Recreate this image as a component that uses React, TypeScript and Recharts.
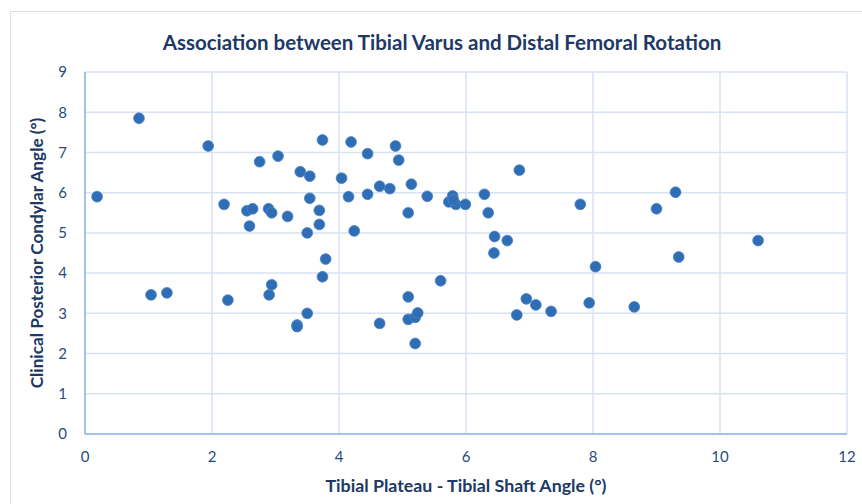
import React from "react";
import { ScatterChart, Scatter, XAxis, YAxis, CartesianGrid, Label } from "recharts";

const tibialVarus = [
  0.19, 0.85, 1.04, 1.29, 1.94, 2.19, 2.25, 2.55, 2.59, 2.64, 2.75, 2.89, 2.94, 2.9, 2.94, 3.04, 3.19, 3.34, 3.34, 3.39,
  3.5, 3.5, 3.54, 3.54, 3.69, 3.69, 3.74, 3.74, 3.79, 4.04, 4.15, 4.19, 4.24, 4.45, 4.45, 4.64, 4.64, 4.8, 4.89, 4.94,
  5.09, 5.09, 5.09, 5.14, 5.2, 5.24, 5.2, 5.39, 5.6, 5.73, 5.79, 5.84, 5.8, 5.99, 6.29, 6.35, 6.45, 6.44, 6.65, 6.8,
  6.84, 6.95, 7.1, 7.34, 7.8, 7.94, 8.04, 8.65, 9.0, 9.3, 9.35, 10.6,
];
const condylarAngle = [
  5.9, 7.85, 3.46, 3.51, 7.16, 5.71, 3.33, 5.55, 5.17, 5.6, 6.77, 5.6, 5.5, 3.46, 3.71, 6.91, 5.41, 2.71, 2.67, 6.52,
  3.0, 5.0, 6.41, 5.86, 5.56, 5.21, 7.31, 3.91, 4.35, 6.36, 5.9, 7.26, 5.05, 6.97, 5.96, 6.16, 2.75, 6.1, 7.16, 6.81,
  5.5, 3.41, 2.85, 6.21, 2.9, 3.01, 2.25, 5.91, 3.81, 5.77, 5.92, 5.71, 5.82, 5.71, 5.96, 5.5, 4.91, 4.5, 4.81, 2.96,
  6.56, 3.36, 3.21, 3.05, 5.71, 3.26, 4.16, 3.16, 5.6, 6.01, 4.4, 4.81,
];
const xTicks = [0, 2, 4, 6, 8, 10, 12];
const yTicks = [0, 1, 2, 3, 4, 5, 6, 7, 8, 9];

const data = tibialVarus.map((x, i) => ({ x, y: condylarAngle[i] }));

const FONT = "Lato, 'Open Sans', sans-serif";
const DARK = "#203864";
const TICK = "#2B4A7C";

const Dot = (props: any) => {
  const { cx, cy } = props;
  if (cx == null || cy == null) return null;
  return <circle cx={cx} cy={cy} r={5.4} fill="#2F6DB5" stroke="#4A84C8" strokeWidth={0.8} />;
};

export default function App() {
  return (
    <div style={{ position: "absolute", left: 0, top: 0, width: 862, height: 504, overflow: "hidden", background: "#fff" }}>
      <div
        style={{
          position: "absolute",
          left: 10,
          top: 11,
          width: 900,
          height: 600,
          border: "1.5px solid #D9E2F3",
        }}
      />
      <div
        style={{
          position: "absolute",
          left: 0,
          top: 29,
          width: 884,
          textAlign: "center",
          fontFamily: FONT,
          fontWeight: 700,
          fontSize: 20.5,
          lineHeight: "26px",
          color: DARK,
        }}
      >
        Association between Tibial Varus and Distal Femoral Rotation
      </div>
      <div style={{ position: "absolute", left: 0, top: 0 }}>
        <ScatterChart width={862} height={504} margin={{ top: 72, right: 15, bottom: 30, left: 0 }}>
          <CartesianGrid stroke="#D9E2F3" strokeWidth={1.5} />
          <XAxis
            type="number"
            dataKey="x"
            domain={[0, 12]}
            ticks={xTicks}
            interval={0}
            height={40}
            axisLine={{ stroke: "#8EB4E3", strokeWidth: 1.5 }}
            tickLine={false}
            tickSize={0}
            tickMargin={17}
            tick={{ fill: TICK, fontSize: 15, fontFamily: FONT }}
          >
            <Label
              value="Tibial Plateau - Tibial Shaft Angle (°)"
              position="bottom"
              offset={5}
              style={{ fill: DARK, fontSize: 17.8, fontWeight: 700, fontFamily: FONT }}
            />
          </XAxis>
          <YAxis
            type="number"
            dataKey="y"
            domain={[0, 9]}
            ticks={yTicks}
            interval={0}
            width={85}
            axisLine={{ stroke: "#8EB4E3", strokeWidth: 1.5 }}
            tickLine={false}
            tickSize={0}
            tickMargin={18}
            tick={{ fill: TICK, fontSize: 15, fontFamily: FONT }}
          >
            <Label
              value="Clinical Posterior Condylar Angle (°)"
              angle={-90}
              position="insideLeft"
              offset={37}
              style={{ textAnchor: "middle", fill: DARK, fontSize: 17.2, fontWeight: 700, fontFamily: FONT }}
            />
          </YAxis>
          <Scatter data={data} shape={Dot} isAnimationActive={false} />
        </ScatterChart>
      </div>
    </div>
  );
}
